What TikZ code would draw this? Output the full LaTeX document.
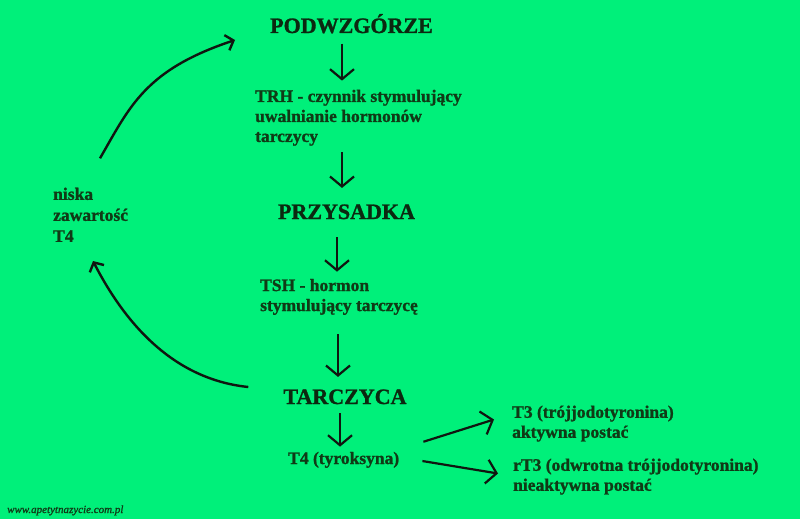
\documentclass[tikz,border=0pt]{standalone}
\usepackage{fontspec}
\setmainfont{Liberation Serif}[BoldFeatures={FakeBold=1.2},ItalicFeatures={FakeBold=1}]
\usetikzlibrary{arrows.meta,calc}
\definecolor{bg}{RGB}{0,240,122}
\definecolor{ink}{RGB}{16,58,22}
\definecolor{tink}{RGB}{12,40,16}
\definecolor{arrc}{RGB}{16,22,16}
\begin{document}
\begin{tikzpicture}[x=1pt,y=-1pt,
  title/.style={font=\fontsize{22}{26}\selectfont\bfseries, text=tink, inner sep=0pt},
  body/.style={font=\fontsize{17.5}{20}\selectfont\bfseries, text=ink, inner sep=0pt, align=left},
  wm/.style={font=\fontsize{11}{13}\selectfont\itshape, text=ink, inner sep=0pt},
  varr/.style={draw=arrc, line width=2.2pt, -{Straight Barb[length=10pt,width=24pt]}},
  carr/.style={draw=arrc, line width=2.4pt, -{Straight Barb[length=7pt,width=16pt]}}]
\useasboundingbox (0,0) rectangle (800,519);
\fill[bg] (0,0) rectangle (800,519);
% nodes
\node[title, anchor=base] (podw) at (351.5,33) {PODWZGÓRZE};
\node[body, anchor=north west] (trh) at (255,89.6) {TRH - czynnik stymulujący\\uwalnianie hormonów\\tarczycy};
\node[title, anchor=base] (przy) at (346.5,219) {PRZYSADKA};
\node[body, anchor=north west] (tsh) at (260,278.7) {TSH - hormon\\stymulujący tarczycę};
\node[title, anchor=base] (tarcz) at (345,404) {TARCZYCA};
\node[body, anchor=base west] (t4) at (288,464) {T4 (tyroksyna)};
\node[body, anchor=north west] (t3) at (512,405.4) {T3 (trójjodotyronina)\\aktywna postać};
\node[body, anchor=north west] (rt3) at (513,458.4) {rT3 (odwrotna trójjodotyronina)\\nieaktywna postać};
\node[body, anchor=north west, font=\fontsize{17.5}{21}\selectfont\bfseries] (niska) at (53,187.5) {niska\\zawartość\\T4};
\node[wm, anchor=base west] (wm) at (7,513) {www.apetytnazycie.com.pl};
% x positions of the vertical arrows
\coordinate (x1) at (342,0);
\coordinate (x2) at (342,0);
\coordinate (x3) at (337,0);
\coordinate (x4) at (338,0);
\coordinate (x5) at (340,0);
% vertical arrows
\draw[varr, shorten <=10pt, shorten >=9pt] (podw.south -| x1) -- (trh.north -| x1);
\draw[varr, shorten <=6.2pt, shorten >=16.3pt] (trh.south -| x2) -- (przy.north -| x2);
\draw[varr, shorten <=18pt, shorten >=7pt] (przy.south -| x3) -- (tsh.north -| x3);
\draw[varr, shorten <=19.2pt, shorten >=12.3pt] (tsh.south -| x4) -- (tarcz.north -| x4);
\draw[varr, shorten <=9pt, shorten >=5pt] (tarcz.south -| x5) -- (t4.north -| x5);
% diagonal arrows
\draw[varr] ($(t4.north east)+(24,-9.9)$) -- ($(t3.north west)+(-18,14.1)$);
\draw[varr] ($(t4.east)+(23,1.2)$) -- ($(rt3.north west)+(-15,15.1)$);
% curved feedback arrows
\draw[carr] ($(niska.north west)+(47,-29.2)$) .. controls +(30,-52) and +(-90,30) .. ($(podw.base west)+(-35,7)$);
\draw[carr] ($(tarcz.base west)+(-35,-17)$) .. controls +(-68,-7) and +(37,72) .. ($(niska.south west)+(40,19)$);
\end{tikzpicture}
\end{document}
